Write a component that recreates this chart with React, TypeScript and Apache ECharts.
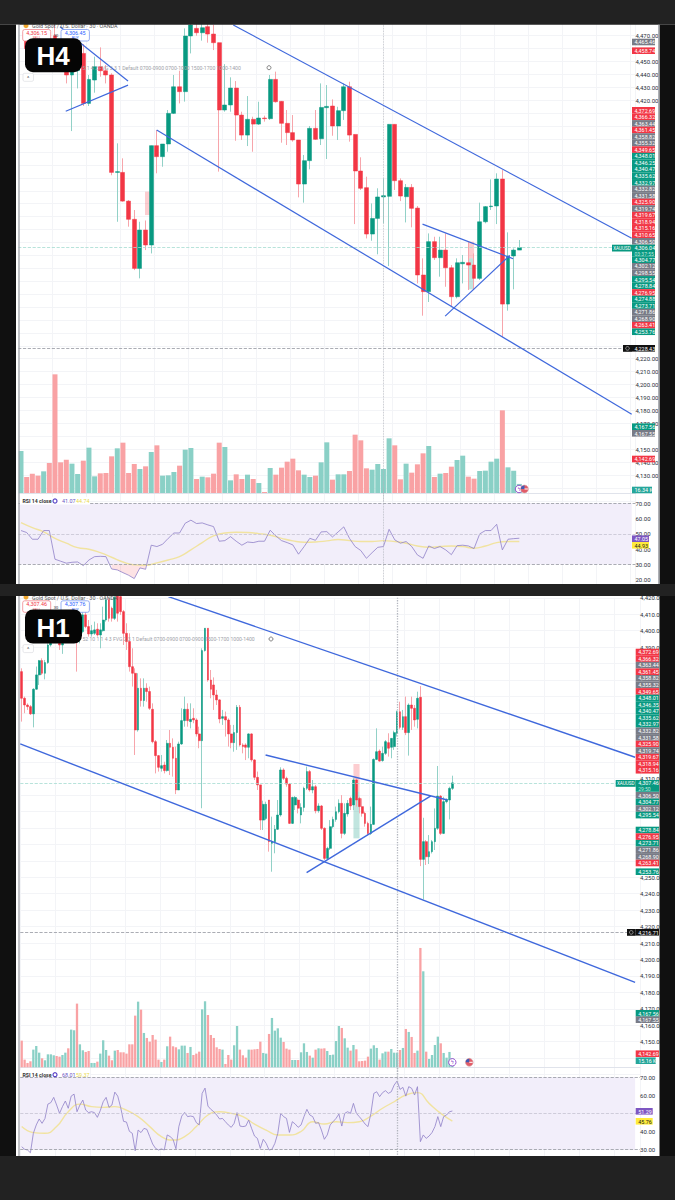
import React, { useEffect, useRef } from "react";
import * as echarts from "echarts";

type Candle = [number, number, number, number]; // open, close, low, high

const h4Candles: Candle[] = [
  [4484, 4490, 4482, 4492], [4466, 4460, 4458, 4468], [4460, 4452, 4450, 4462], [4452, 4448, 4446, 4456],
  [4448, 4452, 4446, 4456], [4452, 4446, 4444, 4456], [4470, 4450, 4448, 4482], [4450, 4446, 4444, 4454],
  [4442.2, 4439.6, 4433.1, 4446], [4439.6, 4442.2, 4396.2, 4448.6], [4443, 4448, 4429.2, 4451.2], [4456.3, 4417.6, 4415.6, 4463.6],
  [4417.6, 4436.2, 4415.6, 4439.6], [4435.7, 4446, 4425.9, 4453.8], [4446, 4442.9, 4438.3, 4461], [4442.9, 4439.6, 4433.1, 4447.3],
  [4439.6, 4364.2, 4362, 4440.9], [4364.2, 4364.8, 4326, 4386.7], [4364.2, 4342, 4341.5, 4375.1], [4342, 4327.9, 4322.2, 4342.8],
  [4327.9, 4289.9, 4288.6, 4335.1], [4289.9, 4319.6, 4282.2, 4326], [4319.6, 4308, 4304.1, 4327], [4308, 4384.9, 4301.5, 4384.9],
  [4384.9, 4376.4, 4363.5, 4397], [4376.4, 4386.2, 4368.6, 4386.2], [4386.2, 4409.9, 4380.2, 4412.5], [4409.9, 4430.5, 4409.4, 4439.6],
  [4430.5, 4426.7, 4417.6, 4442.9], [4426.7, 4469.8, 4419, 4475.7], [4469.8, 4478.3, 4456.3, 4490], [4475.7, 4472.3, 4470, 4486],
  [4472.3, 4476.2, 4466.2, 4484], [4477, 4471.3, 4464.6, 4482], [4471.3, 4464.6, 4458.9, 4478.5], [4464.6, 4412.5, 4364.8, 4464.6],
  [4412.5, 4416.4, 4411.2, 4448], [4416.4, 4429.5, 4411.2, 4437.8], [4429.5, 4408.6, 4388.7, 4434.9], [4408.6, 4393.1, 4389.3, 4411.2],
  [4393.1, 4405.3, 4384.6, 4423.3], [4405.3, 4401.6, 4380.2, 4407.3], [4401.6, 4406.3, 4400.9, 4418.9], [4406.3, 4405.8, 4403.5, 4408.1],
  [4405.8, 4436.2, 4404.8, 4439.6], [4436.2, 4418.9, 4418.2, 4442.2], [4419.2, 4402.2, 4387.2, 4419.5], [4402.2, 4395, 4385.4, 4412.5],
  [4395, 4389.3, 4388, 4408.6], [4389.3, 4355.2, 4344.9, 4389.3], [4355.2, 4373.3, 4340.8, 4377.7], [4373.3, 4398.3, 4366.6, 4400.1],
  [4398.3, 4389.8, 4389.3, 4412.5], [4390.3, 4414.5, 4385.4, 4433.1], [4414.3, 4415.3, 4374.6, 4431.8], [4415.6, 4400.1, 4392.6, 4420.7],
  [4400.1, 4412, 4389.3, 4415], [4412, 4430.5, 4404.8, 4433.1], [4430.5, 4393.1, 4388, 4434.4], [4393.6, 4365.3, 4324.2, 4393.6],
  [4365.3, 4351.9, 4350.6, 4375.9], [4352.4, 4316.5, 4313.1, 4360.9], [4316.5, 4328.6, 4311.3, 4340.2], [4328.6, 4345.2, 4300.8, 4351.9],
  [4345.2, 4346.2, 4324.8, 4359.6], [4345.7, 4401.4, 4291.7, 4401.4], [4401.4, 4357.8, 4350.6, 4401.4], [4357.8, 4345.9, 4342, 4359.6],
  [4345.4, 4352.6, 4325.5, 4355.2], [4352.6, 4336.4, 4321.7, 4355.2], [4336.6, 4284.8, 4278.3, 4338.2], [4284.8, 4271.9, 4253.3, 4297.7],
  [4271.9, 4310.6, 4263.9, 4317], [4310.6, 4298.2, 4296.4, 4314.4], [4298.2, 4304.1, 4283.5, 4314.4], [4304.1, 4290.4, 4275.7, 4317],
  [4290.4, 4268, 4260.3, 4292.5], [4268, 4294.3, 4266.7, 4297.7], [4293.5, 4294.6, 4278.3, 4300.3], [4294.3, 4292.5, 4273.2, 4310.6],
  [4292.5, 4282.2, 4273.7, 4301.5], [4282.2, 4326, 4280.9, 4340.8], [4326, 4337.7, 4324.8, 4338.2], [4337.7, 4338.2, 4335.1, 4358.8],
  [4338.2, 4359.1, 4324.2, 4363.5], [4359.1, 4262.3, 4237, 4366], [4262.3, 4299.5, 4257.2, 4317.8], [4299.5, 4304.1, 4273.7, 4305.4],
  [4304.1, 4306.04, 4304.1, 4311.9],
];

const h4Volume: number[] = [
  75.6, 28.8, 34.8, 31.2, 39, 54, 213.6, 55.2, 60, 52.8, 34.2, 58.2, 81.6, 30, 35.4, 36, 66, 80.4, 90.6, 36, 52.2, 43.2, 48, 73.8, 85.8, 31.2, 31.8, 37.8, 49.2, 78,
  81, 25.2, 29.4, 28.2, 34.8, 90.6, 82.8, 22.8, 33.6, 25.2, 33, 25.2, 18, 1.8, 45, 33, 45.6, 56.4, 61.8, 40.8, 33, 28.8, 31.2, 55.2, 91.2, 24, 33.6,
  33.6, 39.6, 105, 94.8, 44.4, 42, 52.2, 43.2, 98.4, 85.8, 24.6, 52.8, 36.6, 51.6, 71.4, 84.6, 28.8, 34.8, 36, 47.4, 59.4, 67.2, 29.4, 25.8, 39.6, 40.2, 56.4, 61.8, 148.8, 46.2, 40.2, 16.34,
];

const h4Rsi: number[] = [
  52.1, 50.8, 46.4, 46.4, 52.1, 52.1, 33.3, 32, 30.7, 31.3, 31.5, 29.1, 32.8, 35, 35.2, 35, 26.9, 26.3, 24.5, 22.8, 20.6, 27.6, 26.7, 42.5, 41.6, 43.1, 47, 50.5, 50.5, 56.9,
  58.9, 56.7, 57.1, 55.8, 54.7, 45.1, 45.5, 48.1, 45.1, 42.5, 44.6, 44.2, 45.1, 45.1, 52.3, 48.6, 45.5, 44.2, 42.7, 36.6, 41.6, 47, 45.7, 51.2, 51.4, 47.9, 51.2,
  54.5, 47, 41.6, 39, 33.9, 37.6, 41.1, 41.6, 52.9, 46, 43.8, 44.9, 41.6, 36.1, 33.9, 42, 40.3, 41.6, 39.4, 36.3, 42.2, 42.5, 42, 40.3, 49.9, 52.1, 52.1, 56.2, 39.4, 46.4, 46.8, 47.05,
];

// Signal line, read every second bar
const h4Signal: number[] = [
  57.3, 54, 51.2, 47, 43.8, 40.9, 39.8, 37.6, 34.6, 31.5, 29.6, 29.3, 30.9, 32.8, 35, 39.4, 44.2, 48.6, 50.5, 51, 50.8, 50.1, 49, 47, 45.3, 44.4, 44.6, 45.3, 46.2,
  45.5, 44.9, 44.9, 45.5, 44.9, 43.8, 42, 41.1, 41.6, 42, 41.6, 40.5, 42, 44.2, 44.9, 44.93,
];

const h1Candles: Candle[] = [
  [4375.1, 4358.9, 4344.7, 4377.1], [4358.9, 4354.8, 4349.8, 4359.9], [4354.8, 4353.8, 4351.8, 4355.8], [4353.8, 4349.4, 4348.7, 4354.8],
  [4349.4, 4364.4, 4341.2, 4365], [4364.4, 4373.1, 4364, 4378.2], [4373.1, 4381.8, 4367, 4382.2], [4381.8, 4374.1, 4373.1, 4383.2],
  [4374.1, 4380.6, 4370.4, 4382.2], [4380.6, 4391.3, 4379.8, 4392.3], [4391.3, 4398.4, 4390.3, 4400.5], [4398.4, 4402.5, 4397.4, 4404.5],
  [4402.5, 4394.4, 4393.4, 4404.5], [4394.4, 4391.3, 4388.3, 4395.4], [4391.3, 4396.4, 4385.9, 4398.4], [4396.4, 4400.5, 4394.4, 4402.5],
  [4400.5, 4395.4, 4394.4, 4402.5], [4395.4, 4402.5, 4394.4, 4404.5], [4402.5, 4405.5, 4401.5, 4407.5], [4405.5, 4394.4, 4375.1, 4407.5],
  [4394.4, 4399.4, 4392.3, 4401.5], [4399.4, 4409.6, 4398.4, 4412.6], [4409.6, 4402.5, 4401.5, 4411.6], [4402.5, 4398, 4396.4, 4406.5],
  [4398, 4400, 4396.4, 4403.5], [4398.4, 4400.5, 4397.4, 4405.5], [4400.9, 4397.4, 4396.4, 4404.5], [4397.4, 4400.5, 4389.3, 4404.5],
  [4400, 4406.5, 4399.4, 4414.6], [4406.5, 4418.7, 4405.5, 4420.3], [4418.7, 4407.5, 4405.5, 4419.7], [4413.6, 4407.5, 4405.5, 4414.6],
  [4407.5, 4420.3, 4406.5, 4421.8], [4421.8, 4410.6, 4405.5, 4423.8], [4420.7, 4411.6, 4409.6, 4421.8], [4411.6, 4398.4, 4391.3, 4412.6],
  [4398.4, 4393.4, 4388.3, 4404.5], [4393.4, 4378.1, 4375.1, 4398.4], [4378.1, 4374.1, 4366, 4389.3], [4374.1, 4339.6, 4324.4, 4377.1],
  [4339.6, 4365, 4338.6, 4374.1], [4365, 4357.5, 4353.8, 4371], [4357.5, 4365, 4353.8, 4371], [4365, 4363, 4356.8, 4368],
  [4363, 4352.8, 4351.8, 4366], [4352.2, 4332.5, 4331.5, 4355.8], [4332.5, 4324, 4313.2, 4333.5], [4324, 4316.9, 4314.3, 4324.4],
  [4316.3, 4317.9, 4314.3, 4324.4], [4318.3, 4314.9, 4313.2, 4320.3], [4314.9, 4331.5, 4314.3, 4333.5], [4331.5, 4329.1, 4312.2, 4339.6],
  [4329.1, 4322.4, 4311.2, 4334.5], [4322.4, 4303.1, 4300.6, 4329.5], [4303.1, 4331.1, 4303.1, 4332.5], [4331.1, 4345.3, 4330.5, 4352.8],
  [4345.3, 4352.2, 4341.6, 4359.9], [4352.2, 4345.3, 4341.6, 4355.8], [4344.7, 4346.1, 4340.6, 4355.8], [4346.7, 4345.7, 4343.7, 4352.8],
  [4345.7, 4337.2, 4335.6, 4346.7], [4337.2, 4333.1, 4328.5, 4341.6], [4333.1, 4387.9, 4292, 4389.3], [4387.9, 4401.5, 4387.3, 4401.5],
  [4401.5, 4370, 4369, 4401.5], [4370, 4364.4, 4358.9, 4376.1], [4367, 4360.9, 4351.8, 4371.6], [4360.9, 4357.9, 4354.8, 4364],
  [4357.9, 4346.3, 4343.7, 4358.3], [4346.7, 4347.7, 4342.7, 4351.8], [4347.7, 4345.7, 4335.6, 4350.8], [4345.7, 4337.2, 4329.5, 4346.7],
  [4337.2, 4331.9, 4328.5, 4342.7], [4331.9, 4338, 4326.4, 4342.7], [4338, 4353.4, 4327.5, 4354.8], [4353.4, 4330.5, 4329.5, 4354.8],
  [4330.5, 4329.5, 4325.4, 4331.5], [4330.5, 4329.1, 4321.3, 4331.5], [4329.1, 4337.2, 4322.4, 4337.6], [4337.2, 4321.4, 4320.3, 4337.6],
  [4321.4, 4310.8, 4309.2, 4321.8], [4310.8, 4306.2, 4303.1, 4314.3], [4306.2, 4284.8, 4278.8, 4306.2], [4284.8, 4294.4, 4278.8, 4296.6],
  [4285.8, 4294.4, 4284.8, 4296], [4297, 4271.7, 4265.6, 4297], [4270.7, 4271.7, 4253.4, 4286.9], [4271.7, 4279.2, 4264.6, 4281.8],
  [4279.2, 4287.9, 4278.8, 4297], [4287.9, 4315.3, 4286.9, 4316.9], [4315.3, 4310.2, 4309.2, 4316.3], [4310.2, 4306.7, 4305.1, 4311.2],
  [4306.7, 4282.8, 4282.4, 4307.2], [4282.8, 4298.6, 4282.4, 4299], [4294, 4298.6, 4290.9, 4299.4], [4297, 4292, 4288.9, 4298],
  [4287.9, 4292.5, 4282.8, 4295], [4292.5, 4304.1, 4289.9, 4305.1], [4304.1, 4314.3, 4303.1, 4317.3], [4314.3, 4303.1, 4302.1, 4315.3],
  [4303.1, 4305.1, 4301.1, 4309.2], [4305.1, 4290.5, 4288.9, 4306.2], [4290.5, 4293.4, 4289.3, 4295], [4293.4, 4279.8, 4278.8, 4294],
  [4279.8, 4261.5, 4260.5, 4280.4], [4261.5, 4267.6, 4260.9, 4268.6], [4267.6, 4280.8, 4266.6, 4284.8], [4280.8, 4285.2, 4279.8, 4286.9],
  [4285.2, 4289.9, 4283.8, 4293], [4289.9, 4295, 4288.9, 4297.4], [4295, 4276.7, 4273.7, 4300], [4276.7, 4288.9, 4275.7, 4295],
  [4288.5, 4295, 4286.9, 4297], [4298, 4293.4, 4290.9, 4299], [4294, 4309.2, 4290.9, 4310.2], [4309.2, 4297, 4293, 4310.2],
  [4298, 4293, 4288.9, 4299], [4293, 4288.9, 4286.9, 4298], [4288.9, 4282.8, 4280.8, 4289.9], [4282.8, 4276.7, 4275.7, 4283.8],
  [4276.7, 4282.2, 4275.7, 4293], [4282.2, 4321.7, 4281.8, 4322.3], [4321.7, 4326.4, 4321.3, 4340.6], [4326.8, 4320.7, 4320.3, 4327.8],
  [4321, 4325.4, 4320.3, 4329.5], [4325.4, 4332.5, 4324.4, 4333.5], [4331.9, 4328.5, 4323.4, 4337.6], [4329.1, 4334.5, 4322.4, 4334.5],
  [4329.5, 4338, 4327.5, 4339.2], [4337.6, 4350.7, 4335.6, 4351.4], [4350.7, 4341.2, 4340, 4356.8], [4341.2, 4347.7, 4339.6, 4351.8],
  [4347.7, 4338, 4336.5, 4359.9], [4338, 4354.8, 4324, 4355.8], [4354.8, 4352.8, 4339.6, 4359.9], [4352.8, 4345.7, 4341.6, 4354.8],
  [4346.1, 4358.9, 4340.6, 4362.9], [4359.5, 4260.9, 4256.8, 4366.3], [4260.9, 4271.7, 4236.6, 4286.2], [4271.7, 4262.5, 4257.5, 4272.7],
  [4262.5, 4265.6, 4258.1, 4275.7], [4265.6, 4271.7, 4264.5, 4272.7], [4271.7, 4279.8, 4266.6, 4291.9], [4279.8, 4299.4, 4278.8, 4317.7],
  [4299.4, 4276.7, 4275.7, 4300], [4276.7, 4296, 4276.3, 4299], [4296, 4297.4, 4295, 4298], [4297, 4304.1, 4285.2, 4305.1],
  [4304.1, 4307.46, 4303.1, 4311.8],
];

const h1Volume: number[] = [
  44.8, 12.9, 7.3, 10.1, 29.7, 35.8, 24.6, 15.1, 11.8, 21.8, 21.8, 20.2, 19, 17.9, 20.7, 24.6, 31.9, 63.3, 62.2, 107, 38.6, 28.6, 25.8, 27.4, 7.3, 7.3, 9.5, 23, 45.4, 29.1,
  19.6, 11.8, 28, 29.1, 25.2, 25.2, 23, 38.6, 38.6, 86.8, 110.3, 96.9, 57.7, 49.3, 43.1, 54.3, 46.5, 12.9, 9, 12.9, 35.3, 51.5, 35.3, 33.6, 30.2, 36.4, 36.4, 24.1, 34.2, 20.7,
  23, 26.3, 97.4, 110.9, 87.9, 54.3, 49.3, 33.6, 30.8, 29.7, 5.6, 20.7, 12.9, 37, 69.4, 29.7, 20.2, 16.2, 29.7, 29.7, 30.2, 30.8, 43.1, 24.1, 23, 56, 82.9, 61.6, 65.5, 49.8,
  42.6, 31.4, 29.7, 12.3, 12.3, 12.3, 25.2, 40.3, 25.8, 19.6, 16.2, 29.7, 31.9, 31.4, 31.9, 27.4, 20.7, 21.3, 44.2, 69.4,
  66.1, 48.7, 33, 28, 37.5, 30.2, 10.1, 10.6, 11.2, 17.9, 31.4, 37, 32.5, 12.9, 23.5, 26.3, 26.3, 30.8, 24.6, 24.6, 29.1, 32.5, 64.4, 59.4, 51, 24.1, 28, 200.5, 161.3, 26.3,
  14, 20.7, 37.5, 51.5, 40.3, 24.1, 16.2, 25.8, 15.16,
];

const h1Rsi: number[] = [
  31.6, 30.2, 29.8, 28.3, 39, 43.6, 46.9, 44.5, 47.2, 55.1, 55.9, 58.8, 54.6, 50, 53.7, 56.8, 52.8, 59.5, 60.6, 50.9, 54.6, 57.3, 51.8, 50.4, 50.9, 50.4, 47.8, 51.5, 56.4, 58.8,
  53.3, 54.6, 61.7, 59.5, 53.3, 45.6, 45.2, 40.1, 39, 29.4, 40.8, 39.4, 41.7, 41.2, 37.2, 33.1, 30.7, 29.8, 30.4, 29.8, 38.1, 37.2, 35.7, 30.5, 42.7, 48.5, 50.5, 48.2, 48.5, 48.2,
  44.9, 43.6, 61, 63.9, 54, 52.2, 50.9, 49.1, 46.9, 47.2, 45.4, 43.6, 42.3, 44.5, 50.4, 43, 42.7, 43, 46.3, 41.7, 37.5, 36.2, 30.7, 35.7, 33.5, 29.8, 30.2, 33.5, 39, 50,
  48.2, 47.2, 39.5, 45.4, 44.1, 42.3, 43.6, 48.2, 52.2, 49.1, 48.2, 44.5, 44.9, 40.8, 35.7, 38.1, 43.6, 45.4, 47.2, 49.6,
  43, 50, 50.9, 50, 55.5, 50, 48.2, 46.3, 44.1, 42.7, 50, 61, 61.9, 59.2, 61.4, 62.5, 61, 61.9, 65.6, 67.8, 63.2, 64.3, 59.5, 64.7, 63.8, 60.1, 64.7, 34.4, 38.1, 36.2,
  37.5, 39.4, 42.7, 48.2, 42.7, 48.2, 49.1, 50.9, 51.29,
];

// Signal line, read every fourth bar
const h1Signal: number[] = [
  42.7, 39.4, 39, 42.7, 50.9, 55.1, 53.7, 53.3, 53.7, 51.8, 48.2, 42.7, 37.2, 35.3, 37.2, 42.7, 49.1, 50.9, 50, 48.2, 44.1, 40.8, 38.1, 38.1, 40, 45.4, 44.1, 45.4,
  44.9, 45.4, 48.5, 52.8, 56.4, 60.1, 61.4, 55.5, 50, 45.76,
];

// Trend lines: [bar, price, bar, price]
const h4Trends: number[][] = [
  [37.99, 4478.3, 108.34, 4313.2],
  [24.46, 4397, 108.34, 4177],
  [7.4, 4476.9, 19.4, 4434.9],
  [8.4, 4411.5, 19.4, 4431.8],
  [71.4, 4324.2, 87.4, 4297.4],
  [75.4, 4253, 86.8, 4300],
];
const h1Trends: number[][] = [
  [50.9, 4420.7, 211.3, 4323],
  [0, 4331.1, 211.3, 4186.1],
  [84.3, 4324.4, 146.8, 4297],
  [98.4, 4252.8, 141.1, 4299.5],
];

// Boxes: [bar, bar, price, price, kind]
const h4Boxes: [number, number, number, number, string][] = [
  [22.4, 23.4, 4349.3, 4331.2, "bear"],
  [79.5, 80.5, 4310.6, 4297.7, "bear"],
  [79.5, 80.5, 4297.7, 4273.7, "bull"],
];
const h1Boxes: [number, number, number, number, string][] = [
  [114.5, 116.6, 4318.9, 4302.1, "bear"],
  [114.5, 116.6, 4302.1, 4273.7, "bull"],
];

// Price-scale ticks that the reference leaves visible between its tags
const h4PriceTicks = [4470, 4450, 4440, 4430, 4420, 4220, 4210, 4200, 4190, 4180, 4170, 4150, 4140, 4130];
const h1PriceTicks = [4420, 4410, 4400, 4390, 4310, 4250, 4240, 4230, 4220, 4210, 4200, 4190, 4180, 4170, 4160, 4150];
const h4RsiTicks = [20, 30, 40, 50, 60, 70];
const h1RsiTicks = [30, 40, 60, 70];

const h4StackA = ["4,372.69", "4,366.32", "4,363.44", "4,361.45", "4,358.82", "4,355.32", "4,349.65", "4,348.01", "4,346.25", "4,340.47", "4,335.62", "4,332.97", "4,332.82", "4,331.58", "4,325.90", "4,319.74", "4,319.67", "4,318.94", "4,315.16", "4,310.65", "4,306.50"];
const h4KindsA = "rrgrggrbbbbbggrgrrrrg";
const h4StackB = ["4,304.77", "4,302.12", "4,298.55", "4,295.54", "4,278.84", "4,276.95", "4,274.88", "4,273.71", "4,271.86", "4,268.90", "4,263.41", "4,253.76"];
const h4KindsB = "bggbbrbbggrb";
const h1StackA = ["4,372.69", "4,366.32", "4,363.44", "4,361.45", "4,358.82", "4,355.32", "4,349.65", "4,348.01", "4,346.35", "4,340.47", "4,335.62", "4,332.97", "4,332.82", "4,331.58", "4,325.90", "4,319.74", "4,319.67", "4,318.94", "4,315.16"];
const h1KindsA = "rrgrggrbbbbbggrgrrr";
const h1StackB = ["4,306.50", "4,304.77", "4,302.12", "4,295.54"];
const h1KindsB = "gbgb";
const h1StackC = ["4,278.84", "4,276.95", "4,273.71", "4,271.86", "4,268.90", "4,263.41"];
const h1KindsC = "brbggr";

const FONT = "Roboto, 'Liberation Sans', sans-serif";
const BULL = "#089981";
const BEAR = "#f23645";
const GRAY = "#787b86";
const TEAL_VOL = "#8ad0c6";
const RED_VOL = "#f9a2a4";
const BLUE = "#3f68dc";
const kindColor: Record<string, string> = { r: BEAR, b: BULL, g: GRAY };

const money = (v: number) => v.toLocaleString("en-US", { minimumFractionDigits: 2, maximumFractionDigits: 2 });

type Panel = {
  candles: Candle[]; volume: number[]; rsi: number[]; signal: number[]; signalStep: number;
  trends: number[][]; boxes: [number, number, number, number, string][];
  slots: number; left: number; width: number; end: number;
  priceTop: number; priceHeight: number; priceMin: number; priceMax: number; priceTicks: number[];
  volTop: number; volHeight: number; volMax: number;
  rsiTop: number; rsiHeight: number; rsiMin: number; rsiMax: number; rsiLabels: number[];
  current: number; alert: number; cross: number; gridEvery: number; bodyW: number; volW: number; trendW: number;
  crossW: number; oversold: boolean;
};

const h4Panel: Panel = {
  candles: h4Candles, volume: h4Volume, rsi: h4Rsi, signal: h4Signal, signalStep: 2,
  trends: h4Trends, boxes: h4Boxes,
  slots: 109, left: 18.17, width: 617.27, end: 108.34,
  priceTop: 22.8, priceHeight: 478.04, priceMin: 4110, priceMax: 4480, priceTicks: h4PriceTicks,
  volTop: 373, volHeight: 120, volMax: 216,
  rsiTop: 488, rsiHeight: 106.75, rsiMin: 10, rsiMax: 80, rsiLabels: h4RsiTicks,
  current: 4306.04, alert: 4228.43, cross: 64.5, gridEvery: 6, bodyW: 4.4, volW: 5, trendW: 1.2,
  crossW: 0.8, oversold: true,
};

const h1Panel: Panel = {
  candles: h1Candles, volume: h1Volume, rsi: h1Rsi, signal: h1Signal, signalStep: 4,
  trends: h1Trends, boxes: h1Boxes,
  slots: 213, left: 20.25, width: 619.83, end: 211.3,
  priceTop: 597.8, priceHeight: 476.8, priceMin: 4130, priceMax: 4420, priceTicks: h1PriceTicks,
  volTop: 947.3, volHeight: 120, volMax: 201.6,
  rsiTop: 1058.9, rsiHeight: 108.9, rsiMin: 20, rsiMax: 80, rsiLabels: h1RsiTicks,
  current: 4307.46, alert: 4216.71, cross: 129.5, gridEvery: 12, bodyW: 2.2, volW: 2.3, trendW: 1.4,
  crossW: 1.3, oversold: false,
};

function buildPanel(p: Panel, base: number, valueBase: number) {
  const cats = Array.from({ length: p.slots }, (_, i) => String(i));
  const faint = "#f3f4f7";
  const isGrid = (i: number) => i % p.gridEvery === 0;
  const grids = [
    { left: p.left, width: p.width, top: p.priceTop, height: p.priceHeight },
    { left: p.left, width: p.width, top: p.volTop, height: p.volHeight },
    { left: p.left, width: p.width, top: p.rsiTop, height: p.rsiHeight },
  ];
  const cat = (gridIndex: number, opts: any = {}) => ({
    type: "category", gridIndex, data: cats, boundaryGap: true,
    axisLabel: { show: false }, axisTick: { show: false }, axisLine: { show: false },
    splitLine: { show: false }, ...opts,
  });
  const vertical = { show: true, interval: (i: number) => isGrid(i), lineStyle: { color: faint, width: 1 } };
  const xAxes: any[] = [
    cat(base, { splitLine: vertical }),
    cat(base + 1, { axisLine: { show: true, lineStyle: { color: "#e0e3eb", width: 1 } } }),
    cat(base + 2, { splitLine: vertical }),
  ];
  const valueX = (gridIndex: number) => ({ type: "value", gridIndex, min: 0, max: p.slots, show: false });
  const extraX = [valueX(base), valueX(base + 2)];
  const yAxes: any[] = [
    {
      type: "value", gridIndex: base, position: "right", min: p.priceMin, max: p.priceMax, interval: 10, scale: true,
      axisLine: { show: false }, axisTick: { show: false },
      splitLine: { show: true, lineStyle: { color: faint, width: 1 } },
      axisLabel: {
        margin: 0, fontSize: 6, color: "#2a2e39", fontFamily: FONT, showMinLabel: true, showMaxLabel: true,
        formatter: (v: number) => (p.priceTicks.includes(v) ? money(v) : ""),
      },
    },
    { type: "value", gridIndex: base + 1, min: 0, max: p.volMax, show: false },
    {
      type: "value", gridIndex: base + 2, position: "right", min: p.rsiMin, max: p.rsiMax, interval: 10,
      axisLine: { show: false }, axisTick: { show: false },
      splitLine: { show: false },
      axisLabel: {
        margin: 0, fontSize: 6, color: "#2a2e39", fontFamily: FONT,
        formatter: (v: number) => (p.rsiLabels.includes(v) ? v.toFixed(2) : ""),
      },
    },
  ];
  const vx = valueBase, rx = valueBase + 1;
  const series: any[] = [];
  series.push({
    type: "line", xAxisIndex: vx, yAxisIndex: base, data: [[0, p.current], [p.end, p.current]],
    symbol: "none", silent: true, lineStyle: { opacity: 0 }, z: 1,
    markLine: {
      silent: true, symbol: "none", label: { show: false },
      data: [
        { yAxis: p.current, lineStyle: { color: "#a6dcd2", type: "dashed", width: 0.8 } },
        { yAxis: p.alert, lineStyle: { color: "#9598a1", type: "dashed", width: 0.8 } },
        { xAxis: p.cross, lineStyle: { color: "#b2b5be", type: "dotted", width: p.crossW } },
      ],
    },
    markArea: {
      silent: true,
      data: p.boxes.map(([a, b, hi, lo, kind]) => [
        { xAxis: a, yAxis: hi, itemStyle: { color: kind === "bear" ? "rgba(242,54,69,0.25)" : "rgba(8,153,129,0.25)" } },
        { xAxis: b, yAxis: lo },
      ]),
    },
  });
  series.push({
    type: "candlestick", xAxisIndex: base, yAxisIndex: base, barWidth: 1, silent: true, z: 3,
    data: p.candles.map(c => [c[0], c[1], c[2], c[3]]),
    itemStyle: { color: "transparent", color0: "transparent", borderColor: "#92d1c7", borderColor0: "#f7a5ab", borderWidth: 1 },
  });
  series.push({
    type: "candlestick", xAxisIndex: base, yAxisIndex: base, barWidth: p.bodyW, silent: true, z: 4,
    data: p.candles.map(c => [c[0], c[1], Math.min(c[0], c[1]), Math.max(c[0], c[1])]),
    itemStyle: { color: BULL, color0: BEAR, borderColor: BULL, borderColor0: BEAR, borderWidth: 0.5 },
  });
  p.trends.forEach(t => {
    series.push({
      type: "line", xAxisIndex: vx, yAxisIndex: base, data: [[t[0], t[1]], [t[2], t[3]]],
      symbol: "none", silent: true, z: 5, lineStyle: { color: BLUE, width: p.trendW },
    });
  });
  series.push({
    type: "bar", xAxisIndex: base + 1, yAxisIndex: base + 1, barWidth: p.volW, silent: true, z: 2,
    data: p.volume.map((v, i) => ({
      value: v,
      itemStyle: { color: p.candles[i][1] >= p.candles[i][0] ? TEAL_VOL : RED_VOL },
    })),
  });
  series.push({
    type: "line", xAxisIndex: rx, yAxisIndex: base + 2, data: [[0, 50], [p.end, 50]],
    symbol: "none", silent: true, lineStyle: { opacity: 0 }, z: 1,
    markArea: {
      silent: true,
      itemStyle: { color: "#f2eefa" },
      data: [[{ xAxis: 0, yAxis: 30 }, { xAxis: p.end, yAxis: 70 }]],
    },
    markLine: {
      silent: true, symbol: "none", label: { show: false },
      lineStyle: { color: "#9598a1", type: "dashed", width: 0.8 },
      data: [
        { yAxis: 70 }, { yAxis: 50, lineStyle: { color: "#c5c3d2", type: "dashed", width: 0.8 } }, { yAxis: 30 },
        { xAxis: p.cross, lineStyle: { color: "#b2b5be", type: "dotted", width: p.crossW } },
      ],
    },
  });
  if (p.oversold) {
    series.push({
      type: "line", xAxisIndex: base + 2, yAxisIndex: base + 2, symbol: "none", silent: true, z: 2,
      data: p.rsi.map((v, i) => (i >= 16 && i <= 22 ? v : null)),
      lineStyle: { width: 0 }, areaStyle: { origin: 30, color: "rgba(242,54,69,0.2)" },
    });
  }
  series.push({
    type: "line", xAxisIndex: rx, yAxisIndex: base + 2, symbol: "none", silent: true, z: 3, smooth: true,
    data: p.signal.map((v, i) => [Math.min(i * p.signalStep, p.candles.length - 1) + 0.5, v]),
    lineStyle: { color: "#f1e3a0", width: 1.4 },
  });
  series.push({
    type: "line", xAxisIndex: base + 2, yAxisIndex: base + 2, symbol: "none", silent: true, z: 4,
    data: p.rsi, lineStyle: { color: "#8f80c8", width: 0.8 },
  });
  return { grids, xAxes, extraX, yAxes, series };
}

const Z = 100;
const rect = (x: number, y: number, w: number, h: number, fill: string, extra: any = {}, z = Z) => ({
  type: "rect", z, shape: { x, y, width: w, height: h, r: extra.r || 0 },
  style: { fill, stroke: extra.stroke, lineWidth: extra.lineWidth },
});
const label = (x: number, y: number, text: string, fill: string, size = 5.4, extra: any = {}, z = Z + 1) => ({
  type: "text", z, x, y,
  style: { text, fill, fontSize: size, fontFamily: extra.family || FONT, fontWeight: extra.weight || "normal", align: extra.align || "left", verticalAlign: "middle" },
});
const tag = (x: number, y: number, w: number, text: string, bg: string, fg = "#ffffff", h = 6.6) => [
  rect(x, y - h / 2, w, h, bg),
  label(x + 2.5, y + 0.2, text, fg),
];
const stack = (x: number, w: number, y0: number, step: number, list: string[], kinds: string) =>
  list.flatMap((t, i) => tag(x, y0 + i * step, w, t, kindColor[kinds[i]]));

function overlays(): any[] {
  const els: any[] = [];
  const DARK = "#222222", BLACK = "#101010";
  els.push(
    rect(0, 0, 675, 24.7, DARK), rect(0, 584, 675, 12, DARK), rect(0, 1156, 675, 44, DARK),
    rect(0, 24.7, 16, 559.3, BLACK), rect(0, 596, 16, 560, BLACK),
    rect(659.5, 24.7, 15.5, 559.3, BLACK), rect(659.5, 596, 15.5, 560, BLACK),
    rect(16, 24.7, 2.4, 559.3, "#ffffff"), rect(16, 596, 2.4, 560, "#ffffff"),
    rect(18.4, 24.7, 1.2, 559.3, "#9a9da3"), rect(18.4, 596, 1.2, 560, "#9a9da3"),
    rect(658.2, 24.7, 1.3, 559.3, "#9a9da3"),
  );
  els.push(rect(20, 497, 70, 7.6, "#ffffff", {}, Z - 1), rect(20, 1070.5, 70, 6.2, "#ffffff", {}, Z - 1));

  els.push(...tag(632, 42, 23, "4,465.46", GRAY), ...tag(632, 50.7, 23, "4,458.74", BEAR));
  els.push(...stack(632, 23, 110.3, 6.55, h4StackA, h4KindsA));
  els.push(rect(632, 244.7, 23, 11.8, BULL), label(634.5, 248, "4,306.04", "#fff"), label(634.5, 253.5, "03:37:55", "#bfe8df", 5));
  els.push(...stack(632, 23, 259.7, 6.55, h4StackB, h4KindsB));
  els.push(rect(612, 244.7, 20, 6.8, BULL), label(622, 248.2, "XAUUSD", "#fff", 4.6, { align: "center" }));
  els.push(rect(623, 345, 9, 6.8, "#111"), { type: "circle", z: Z + 1, shape: { cx: 627.5, cy: 348.4, r: 1.8 }, style: { fill: "none", stroke: "#ddd", lineWidth: 0.6 } });
  els.push(...tag(632, 348.3, 23, "4,228.43", "#111"));
  els.push(...tag(632, 426.7, 23, "4,167.56", BULL), ...tag(632, 433.3, 23, "4,167.55", GRAY), ...tag(632, 459, 23, "4,142.69", BEAR), ...tag(632, 490, 20, "16.34 K", "#26a69a"));
  els.push(...tag(632, 538.7, 17, "47.05", "#7e57c2"), ...tag(632, 545.3, 17, "44.93", "#ffeb3b", "#222"));

  els.push(...stack(635.7, 23.3, 652, 6.57, h1StackA, h1KindsA));
  els.push(rect(635.7, 780, 23.3, 11.8, BULL), label(638.2, 783.3, "4,307.46", "#fff"), label(638.2, 788.7, "29:50", "#bfe8df", 5));
  els.push(...stack(635.7, 23.3, 795.3, 6.6, h1StackB, h1KindsB));
  els.push(...stack(635.7, 23.3, 830, 6.6, h1StackC, h1KindsC));
  els.push(...tag(635.7, 871.7, 23.3, "4,253.76", BULL));
  els.push(rect(615.7, 780, 20, 6.8, BULL), label(625.7, 783.5, "XAUUSD", "#fff", 4.6, { align: "center" }));
  els.push(rect(627, 929, 8.7, 6.8, "#111"), { type: "circle", z: Z + 1, shape: { cx: 631.3, cy: 932.4, r: 1.8 }, style: { fill: "none", stroke: "#ddd", lineWidth: 0.6 } });
  els.push(...tag(635.7, 932.3, 23.3, "4,216.71", "#111"));
  els.push(...tag(635.7, 1013.3, 23.3, "4,167.56", BULL), ...tag(635.7, 1019.7, 23.3, "4,167.55", GRAY), ...tag(635.7, 1053.7, 23.3, "4,142.69", BEAR), ...tag(635.7, 1060.7, 20, "15.16 K", "#26a69a"));
  els.push(...tag(635.7, 1111.3, 17, "51.29", "#7e57c2"), ...tag(635.7, 1121.3, 17, "45.76", "#ffeb3b", "#222"));

  const head = (top: number, sell: string, buy: string, name: string, legend: string, legendY: number, eyeX: number) => {
    els.push({ type: "circle", z: Z - 2, shape: { cx: 26, cy: top + 1, r: 2.5 }, style: { fill: "#f0a830" } });
    els.push(label(32, top + 1.5, "Gold Spot / U.S. Dollar · 30 · OANDA", "#555", 5.4, {}, Z - 2));
    els.push(rect(22.7, top + 4.8, 28, 11.5, "#ffffff", { stroke: "#f0868d", lineWidth: 0.8, r: 2 }, Z - 2));
    els.push(label(36.7, top + 8.3, sell, BEAR, 5.4, { align: "center" }, Z - 2), label(36.7, top + 13.6, "SELL", BEAR, 3.6, { align: "center" }, Z - 2));
    els.push(label(56, top + 11, "30", "#333", 4, { align: "center" }, Z - 2));
    els.push(rect(61, top + 4.8, 28.4, 11.5, "#ffffff", { stroke: "#7e9cf0", lineWidth: 0.8, r: 2 }, Z - 2));
    els.push(label(75.2, top + 8.3, buy, "#2962ff", 5.4, { align: "center" }, Z - 2), label(75.2, top + 13.6, "BUY", "#2962ff", 3.6, { align: "center" }, Z - 2));
    els.push(rect(25, top + 13.5, 57, 34, "#050505", { r: 8 }));
    els.push(label(53.2, top + 31.5, name, "#ffffff", 26, { align: "center", weight: "bold", family: "'Liberation Sans', Arial, sans-serif" }));
    els.push(label(82.5, legendY, legend, "#9ea1a8", 5.1));
    els.push({ type: "circle", z: Z, shape: { cx: eyeX, cy: legendY, r: 2 }, style: { fill: "none", stroke: "#777", lineWidth: 0.9 } });
    els.push(rect(23, legendY + 5.6, 10.5, 8, "#ffffff", { stroke: "#d6d8de", lineWidth: 0.6, r: 1.5 }));
    els.push(label(28.2, legendY + 10, "^", "#444", 5.5, { align: "center" }));
  };
  head(24.7, "4,306.15", "4,306.45", "H4", "5.1 4 2 FVG 2 3 1 Default 0700-0900 0700-1000 1500-1700 1000-1400", 67.7, 269);
  head(596, "4,307.46", "4,307.76", "H1", "52 10 1 1 4 3 FVG 2 3 1 Default 0700-0900 0700-0900 1500-1700 1000-1400", 639, 271);

  const rsiHead = (y: number, a: string, b: string) => {
    els.push(label(22.5, y, "RSI 14 close", "#333", 5.2, { weight: "bold" }));
    els.push({ type: "ring", z: Z, shape: { cx: 55, cy: y, r: 2.6, r0: 1.4 }, style: { fill: "#5a45c8" } });
    els.push(label(62, y, a, "#6a55c4", 5.4), label(76, y, b, "#e8d84a", 5.4));
  };
  rsiHead(501, "41.07", "44.74");
  rsiHead(1074.7, "68.01", "59.37");

  const markers = (y: number, x1: number, x2: number) => {
    els.push({ type: "circle", z: Z - 2, shape: { cx: x1, cy: y, r: 3.7 }, style: { fill: "#fff", stroke: "#8e44c9", lineWidth: 0.9 } });
    els.push(label(x1, y, "ϟ", "#8e44c9", 5, { align: "center" }, Z - 2));
    els.push({ type: "circle", z: Z - 2, shape: { cx: x2, cy: y, r: 3.9 }, style: { fill: "#e25c68", stroke: "#d7a7ad", lineWidth: 0.6 } });
    els.push({ type: "sector", z: Z - 2, shape: { cx: x2, cy: y, r0: 0, r: 3.6, startAngle: Math.PI, endAngle: Math.PI * 1.5 }, style: { fill: "#3f5bb5" } });
    els.push(rect(x2, y - 0.5, 3.4, 1, "#fff", {}, Z - 2));
  };
  markers(489, 519, 524.5);
  markers(1062.3, 452.3, 469.3);
  return els;
}

export default function App() {
  const ref = useRef<HTMLDivElement>(null);
  useEffect(() => {
    document.body.style.margin = "0";
    document.body.style.background = "#222222";
    const chart = echarts.init(ref.current!, undefined, { renderer: "svg" });
    const a = buildPanel(h4Panel, 0, 6);
    const b = buildPanel(h1Panel, 3, 8);
    chart.setOption({
      animation: false,
      backgroundColor: "#ffffff",
      grid: [...a.grids, ...b.grids],
      xAxis: [...a.xAxes, ...b.xAxes, ...a.extraX, ...b.extraX],
      yAxis: [...a.yAxes, ...b.yAxes],
      series: [...a.series, ...b.series],
      graphic: { elements: overlays() },
    });
    return () => chart.dispose();
  }, []);
  return <div ref={ref} style={{ position: "fixed", left: 0, top: 0, width: 675, height: 1200 }} />;
}
